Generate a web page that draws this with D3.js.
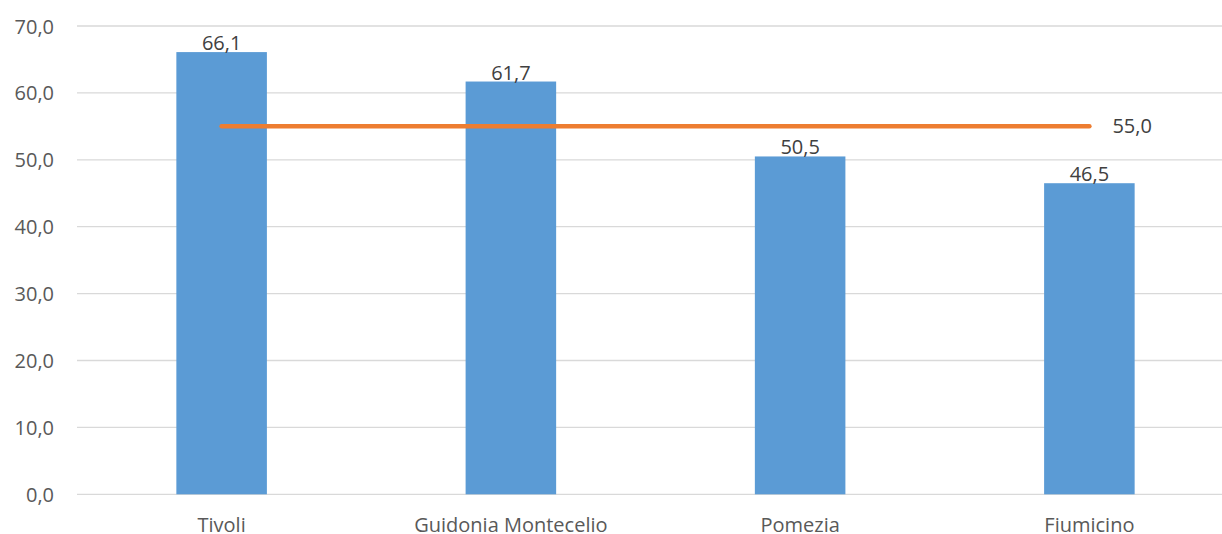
<!DOCTYPE html>
<html><head><meta charset="utf-8">
<script src="https://cdn.jsdelivr.net/npm/d3@7"></script>
<style>body{margin:0;background:#fff}svg{display:block}text{font-family:"Open Sans",sans-serif}</style>
</head><body><svg id="c" width="1222" height="534"></svg>
<script>
const categories = ["Tivoli", "Guidonia Montecelio", "Pomezia", "Fiumicino"];
const barValues = [66.1, 61.7, 50.5, 46.5];
const refValues = [55.0, 55.0, 55.0, 55.0];
const yTicks = [0, 10, 20, 30, 40, 50, 60, 70];

const svg = d3.select("#c");
const mLeft = 77, mRight = 1234, mTop = 26, mBottom = 494.3;
const fmt = v => d3.format(".1f")(v).replace(".", ",");

const x = d3.scaleBand().domain(categories).range([mLeft, mRight]).padding(0);
const y = d3.scaleLinear().domain([0, 70]).range([mBottom, mTop]);
const barW = x.bandwidth() * 0.313;

// gridlines
svg.append("g").selectAll("line").data(yTicks).join("line")
  .attr("x1", mLeft).attr("x2", mRight)
  .attr("y1", d => y(d)).attr("y2", d => y(d))
  .attr("stroke", "#d9d9d9").attr("stroke-width", 1.3);

// y axis labels
const yAxis = d3.axisLeft(y).tickValues(yTicks).tickFormat(fmt).tickSize(0).tickPadding(0);
const ga = svg.append("g").attr("transform", `translate(${mLeft - 23},0)`).call(yAxis);
ga.select(".domain").remove();
ga.selectAll("text").attr("font-size", 20).attr("fill", "#595959")
  .attr("font-family", "'Open Sans', sans-serif").attr("dy", "0.35em");

// bars
svg.append("g").selectAll("rect").data(barValues).join("rect")
  .attr("x", (d, i) => x(categories[i]) + x.bandwidth() / 2 - barW / 2)
  .attr("width", barW)
  .attr("y", d => y(d)).attr("height", d => y(0) - y(d))
  .attr("fill", "#5b9bd5");

// bar labels
svg.append("g").selectAll("text").data(barValues).join("text")
  .attr("x", (d, i) => x(categories[i]) + x.bandwidth() / 2)
  .attr("y", d => y(d) - 2)
  .attr("text-anchor", "middle").attr("font-size", 20).attr("fill", "#404040")
  .text(fmt);

// category labels
const xAxis = d3.axisBottom(x).tickSize(0).tickPadding(0);
const gx = svg.append("g").attr("transform", `translate(0,${mBottom})`).call(xAxis);
gx.select(".domain").remove();
gx.selectAll("text").attr("font-size", 20).attr("fill", "#595959")
  .attr("font-family", "'Open Sans', sans-serif").attr("dy", 0).attr("y", 37.5);

// reference line
const line = d3.line().x((d, i) => x(categories[i]) + x.bandwidth() / 2).y(d => y(d));
svg.append("path").datum(refValues).attr("d", line)
  .attr("fill", "none").attr("stroke", "#ed7d31").attr("stroke-width", 4.5).attr("stroke-linecap", "round");

// reference label
const last = refValues.length - 1;
svg.append("text")
  .attr("x", x(categories[last]) + x.bandwidth() / 2 + 23)
  .attr("y", y(refValues[last])).attr("dy", "0.35em")
  .attr("font-size", 20).attr("fill", "#404040")
  .text(fmt(refValues[last]));
</script></body></html>
